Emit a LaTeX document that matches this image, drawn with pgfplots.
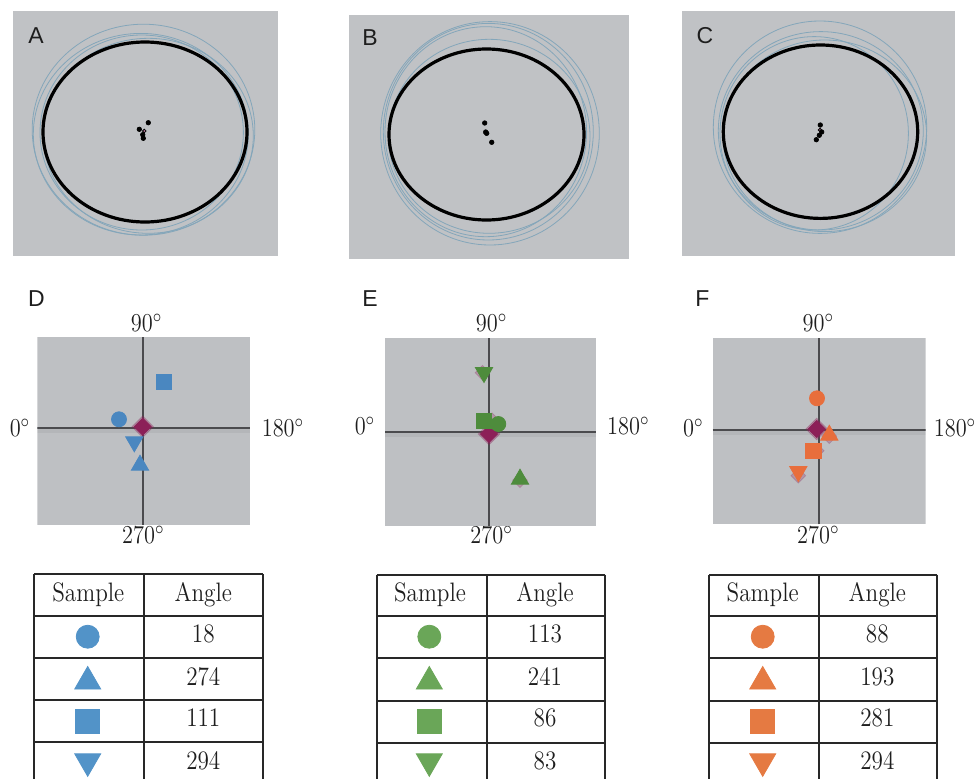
\documentclass[border=0pt]{standalone}
\usepackage{fontspec}
\usepackage{graphicx}
\usepackage{pgfplots}
\pgfplotsset{compat=1.18}
\newfontfamily\labelfont{Liberation Sans}

\definecolor{topgray}{RGB}{192,194,197}
\definecolor{midgray}{RGB}{190,192,195}
\definecolor{ringblue}{RGB}{132,166,186}
\definecolor{mblue}{RGB}{74,135,192}
\definecolor{tblue}{RGB}{82,147,200}
\definecolor{mgreen}{RGB}{78,140,60}
\definecolor{tgreen}{RGB}{106,166,88}
\definecolor{morange}{RGB}{232,110,60}
\definecolor{torange}{RGB}{229,122,66}
\definecolor{mag}{RGB}{140,32,88}
\definecolor{linecol}{RGB}{40,40,40}
\definecolor{crosscol}{RGB}{75,75,78}
\definecolor{txtcol}{RGB}{30,30,30}

\newcommand{\dg}[1]{\scalebox{1}[1.15]{\fontsize{11.2}{13}\selectfont #1$^{\circ}$}}
\newcommand{\tx}[1]{\scalebox{1}[1.15]{\fontsize{11.6}{13}\selectfont #1}}
\newcommand{\pl}[1]{{\labelfont\fontsize{11.5}{13}\selectfont #1}}

\pgfplotsset{
  midpanel/.style={anchor=north west, x=0.5pt, y=0.5pt, axis lines=none, ticks=none, clip=true},
  circ/.style={only marks, mark=*, mark options={draw=none}},
  tri/.style={only marks, mark=triangle*, mark options={draw=none}},
  dtri/.style={only marks, mark=triangle*, mark options={draw=none, rotate=180}},
  sq/.style={only marks, mark=square*, mark options={draw=none}},
  dia/.style={only marks, mark=square*, mark options={draw=none, rotate=45}},
}

\begin{document}
\begin{tikzpicture}
% ---------------- main canvas (pixel coordinates) ----------------
\begin{axis}[at={(0,0)}, anchor=north west, x=0.5pt, y=0.5pt, y dir=reverse,
  xmin=0, xmax=978, ymin=0, ymax=779, axis lines=none, ticks=none, clip=false]
% top panels
\fill[topgray] (axis cs:12.7,11) rectangle (axis cs:277.7,256);
\fill[topgray] (axis cs:349,15) rectangle (axis cs:629,259);
\fill[topgray] (axis cs:682,11) rectangle (axis cs:955,256);
% rings A
\draw[ringblue, line width=0.4pt] (axis cs:143.5,129.7) ellipse [x radius=111.3, y radius=105.5];
\draw[ringblue, line width=0.4pt] (axis cs:140.8,134.2) ellipse [x radius=107.5, y radius=100.8];
\draw[ringblue, line width=0.4pt] (axis cs:141.7,132.5) ellipse [x radius=101.7, y radius=97.5];
\draw[ringblue, line width=0.4pt] (axis cs:148.3,135.8) ellipse [x radius=105, y radius=97.5];
\draw[black, line width=1.6pt] (axis cs:145,132) ellipse [x radius=102, y radius=90];
% rings B
\draw[ringblue, line width=0.4pt] (axis cs:490,133.3) ellipse [x radius=109.3, y radius=111.7];
\draw[ringblue, line width=0.4pt] (axis cs:488.3,131.7) ellipse [x radius=105, y radius=108.3];
\draw[ringblue, line width=0.4pt] (axis cs:489.2,136.3) ellipse [x radius=100.8, y radius=97];
\draw[ringblue, line width=0.4pt] (axis cs:485.8,131.7) ellipse [x radius=100.8, y radius=105];
\draw[black, line width=1.6pt] (axis cs:486.5,134.5) ellipse [x radius=97.5, y radius=85.5];
% rings C
\draw[ringblue, line width=0.4pt] (axis cs:820,127.2) ellipse [x radius=106.7, y radius=106.2];
\draw[ringblue, line width=0.4pt] (axis cs:820.8,130.8) ellipse [x radius=102.5, y radius=99.2];
\draw[ringblue, line width=0.4pt] (axis cs:814.2,133.3) ellipse [x radius=94.2, y radius=96.7];
\draw[ringblue, line width=0.4pt] (axis cs:824.8,135.8) ellipse [x radius=101.8, y radius=95.8];
\draw[black, line width=1.6pt] (axis cs:820.5,131.7) ellipse [x radius=97.2, y radius=86.7];
% centre dots
\addplot[only marks, mark=*, mark size=0.9pt, mark options={draw=none, fill=mag!60!white}] coordinates {(144.3,131) (485.7,133.3) (820,130)};
\addplot[only marks, mark=*, mark size=1.1pt, black] coordinates {
  (148.3,122.7) (139.3,129.3) (142.7,134.7) (143.3,138.3)
  (484.7,123) (485.7,132) (486.7,133.3) (491.7,142.3)
  (820.3,125) (821.7,132) (819.3,135.3) (816.3,139.7)};
% panel letters
\node[anchor=base, text=txtcol] at (axis cs:36,43.3) {\pl{A}};
\node[anchor=base, text=txtcol] at (axis cs:370,45) {\pl{B}};
\node[anchor=base, text=txtcol] at (axis cs:705,43.3) {\pl{C}};
\node[anchor=base, text=txtcol] at (axis cs:36.5,306) {\pl{D}};
\node[anchor=base, text=txtcol] at (axis cs:370,306) {\pl{E}};
\node[anchor=base, text=txtcol] at (axis cs:702.5,306) {\pl{F}};
% degree labels D
\node[anchor=base, text=txtcol] at (axis cs:146.7,331.7) {\dg{90}};
\node[anchor=base, text=txtcol] at (axis cs:20,436.7) {\dg{0}};
\node[anchor=base, text=txtcol] at (axis cs:283,436.7) {\dg{180}};
\node[anchor=base, text=txtcol] at (axis cs:143.3,543.3) {\dg{270}};
% degree labels E
\node[anchor=base, text=txtcol] at (axis cs:491.7,331.7) {\dg{90}};
\node[anchor=base, text=txtcol] at (axis cs:365,434.5) {\dg{0}};
\node[anchor=base, text=txtcol] at (axis cs:628.3,434.5) {\dg{180}};
\node[anchor=base, text=txtcol] at (axis cs:491.7,543.3) {\dg{270}};
% degree labels F
\node[anchor=base, text=txtcol] at (axis cs:818.3,331.7) {\dg{90}};
\node[anchor=base, text=txtcol] at (axis cs:693.3,436.7) {\dg{0}};
\node[anchor=base, text=txtcol] at (axis cs:955,436.7) {\dg{180}};
\node[anchor=base, text=txtcol] at (axis cs:818.3,543.3) {\dg{270}};
% ---------------- tables ----------------
% table D
\draw[linecol, line width=0.9pt] (axis cs:34.3,574.3) -- (axis cs:262.7,574.3);
\draw[linecol, line width=0.9pt] (axis cs:34.3,615.7) -- (axis cs:262.7,615.7);
\draw[linecol, line width=0.9pt] (axis cs:34.3,658) -- (axis cs:262.7,658);
\draw[linecol, line width=0.9pt] (axis cs:34.3,700.3) -- (axis cs:262.7,700.3);
\draw[linecol, line width=0.9pt] (axis cs:34.3,742.3) -- (axis cs:262.7,742.3);
\draw[linecol, line width=0.9pt] (axis cs:34.3,574.3) -- (axis cs:34.3,779);
\draw[linecol, line width=0.9pt] (axis cs:144.3,574.3) -- (axis cs:144.3,779);
\draw[linecol, line width=0.9pt] (axis cs:262.7,574.3) -- (axis cs:262.7,779);
% table E
\draw[linecol, line width=0.9pt] (axis cs:376.7,574.7) -- (axis cs:605,574.7);
\draw[linecol, line width=0.9pt] (axis cs:376.7,616) -- (axis cs:605,616);
\draw[linecol, line width=0.9pt] (axis cs:376.7,658.3) -- (axis cs:605,658.3);
\draw[linecol, line width=0.9pt] (axis cs:376.7,700.7) -- (axis cs:605,700.7);
\draw[linecol, line width=0.9pt] (axis cs:376.7,742.7) -- (axis cs:605,742.7);
\draw[linecol, line width=0.9pt] (axis cs:376.7,574.7) -- (axis cs:376.7,779);
\draw[linecol, line width=0.9pt] (axis cs:486.7,574.7) -- (axis cs:486.7,779);
\draw[linecol, line width=0.9pt] (axis cs:605,574.7) -- (axis cs:605,779);
% table F
\draw[linecol, line width=0.9pt] (axis cs:709.3,574.7) -- (axis cs:937.3,574.7);
\draw[linecol, line width=0.9pt] (axis cs:709.3,616) -- (axis cs:937.3,616);
\draw[linecol, line width=0.9pt] (axis cs:709.3,658.3) -- (axis cs:937.3,658.3);
\draw[linecol, line width=0.9pt] (axis cs:709.3,700.7) -- (axis cs:937.3,700.7);
\draw[linecol, line width=0.9pt] (axis cs:709.3,742.7) -- (axis cs:937.3,742.7);
\draw[linecol, line width=0.9pt] (axis cs:709.3,574.7) -- (axis cs:709.3,779);
\draw[linecol, line width=0.9pt] (axis cs:819,574.7) -- (axis cs:819,779);
\draw[linecol, line width=0.9pt] (axis cs:937.3,574.7) -- (axis cs:937.3,779);
% table headers
\node[anchor=base, text=txtcol] at (axis cs:88.3,601.7) {\tx{Sample}};
\node[anchor=base, text=txtcol] at (axis cs:203.3,601.7) {\tx{Angle}};
\node[anchor=base, text=txtcol] at (axis cs:430,601.7) {\tx{Sample}};
\node[anchor=base, text=txtcol] at (axis cs:545,601.7) {\tx{Angle}};
\node[anchor=base, text=txtcol] at (axis cs:762.7,601.7) {\tx{Sample}};
\node[anchor=base, text=txtcol] at (axis cs:877.3,601.7) {\tx{Angle}};
% table values
\node[anchor=base, text=txtcol] at (axis cs:203.3,642.7) {\tx{18}};
\node[anchor=base, text=txtcol] at (axis cs:203.3,685) {\tx{274}};
\node[anchor=base, text=txtcol] at (axis cs:203.3,726.7) {\tx{111}};
\node[anchor=base, text=txtcol] at (axis cs:203.3,769) {\tx{294}};
\node[anchor=base, text=txtcol] at (axis cs:545,642.7) {\tx{113}};
\node[anchor=base, text=txtcol] at (axis cs:545,685) {\tx{241}};
\node[anchor=base, text=txtcol] at (axis cs:545,726.7) {\tx{86}};
\node[anchor=base, text=txtcol] at (axis cs:545,769) {\tx{83}};
\node[anchor=base, text=txtcol] at (axis cs:877.3,642.7) {\tx{88}};
\node[anchor=base, text=txtcol] at (axis cs:877.3,685) {\tx{193}};
\node[anchor=base, text=txtcol] at (axis cs:877.3,726.7) {\tx{281}};
\node[anchor=base, text=txtcol] at (axis cs:877.3,769) {\tx{294}};
% table sample markers
\addplot[circ, mark size=5.75pt, tblue] coordinates {(87.7,636.7)};
\addplot[tri, mark size=7.5pt, tblue] coordinates {(87.7,681.5)};
\addplot[sq, mark size=6pt, tblue] coordinates {(87.7,721.2)};
\addplot[dtri, mark size=7.5pt, tblue] coordinates {(87.7,761.3)};
\addplot[circ, mark size=5.75pt, tgreen] coordinates {(429.3,636.7)};
\addplot[tri, mark size=7.5pt, tgreen] coordinates {(429.3,681.5)};
\addplot[sq, mark size=6pt, tgreen] coordinates {(429.3,721.2)};
\addplot[dtri, mark size=7.5pt, tgreen] coordinates {(429.3,761.3)};
\addplot[circ, mark size=5.75pt, torange] coordinates {(762.7,636.7)};
\addplot[tri, mark size=7.5pt, torange] coordinates {(762.7,681.5)};
\addplot[sq, mark size=6pt, torange] coordinates {(762.7,721.2)};
\addplot[dtri, mark size=7.5pt, torange] coordinates {(762.7,761.3)};
\end{axis}

% ---------------- D ----------------
\begin{axis}[midpanel, at={(18.65pt,-168.35pt)}, xmin=-105.4, xmax=107.3, ymin=-97.3, ymax=91]
\fill[midgray] (rel axis cs:0,0) rectangle (rel axis cs:1,1);
\draw[black, line width=3pt, opacity=0.05] (axis cs:-105.4,-2) -- (axis cs:107.3,-2);
\draw[crosscol, line width=1pt] (axis cs:-105.4,0) -- (axis cs:107.3,0);
\draw[crosscol, line width=1pt] (axis cs:0,-97.3) -- (axis cs:0,91);
\addplot[dia, mark size=3.8pt, mag, opacity=0.3] coordinates {(0,1)};
\addplot[dia, mark size=3pt, mag] coordinates {(0,1)};
\addplot[circ, mark size=3.75pt, mblue] coordinates {(-23.7,8.4)};
\addplot[tri, mark size=5pt, mblue] coordinates {(-2.7,-37.5)};
\addplot[sq, mark size=3.8pt, mblue] coordinates {(21,46)};
\addplot[dtri, mark size=5pt, mblue] coordinates {(-8.4,-14.1)};
\end{axis}

% ---------------- E ----------------
\begin{axis}[midpanel, at={(192.5pt,-168.85pt)}, xmin=-104, xmax=107, ymin=-93.4, ymax=94.6]
\fill[midgray] (rel axis cs:0,0) rectangle (rel axis cs:1,1);
\draw[black, line width=3pt, opacity=0.05] (axis cs:-104,-2) -- (axis cs:107,-2);
\draw[crosscol, line width=1pt] (axis cs:-104,0) -- (axis cs:107,0);
\draw[crosscol, line width=1pt] (axis cs:0,-93.4) -- (axis cs:0,94.6);
\addplot[dia, mark size=3.8pt, mag, opacity=0.3] coordinates {(0,-1.7)};
\addplot[dia, mark size=2.6pt, mag, opacity=0.25] coordinates {(-6.5,59.5) (31,-48) (3,12)};
\addplot[dia, mark size=3pt, mag] coordinates {(0,-1.7)};
\addplot[sq, mark size=3.8pt, mgreen] coordinates {(-5,11.3)};
\addplot[circ, mark size=3.75pt, mgreen] coordinates {(9.3,8.3)};
\addplot[tri, mark size=5pt, mgreen] coordinates {(31,-46.9)};
\addplot[dtri, mark size=5pt, mgreen] coordinates {(-5,59.8)};
\end{axis}

% ---------------- F ----------------
\begin{axis}[midpanel, at={(356.35pt,-168.85pt)}, xmin=-106, xmax=107, ymin=-94.6, ymax=92]
\fill[midgray] (rel axis cs:0,0) rectangle (rel axis cs:1,1);
\draw[black, line width=3pt, opacity=0.05] (axis cs:-106,-2) -- (axis cs:107,-2);
\draw[crosscol, line width=1pt] (axis cs:-106,0) -- (axis cs:107,0);
\draw[crosscol, line width=1pt] (axis cs:0,-94.6) -- (axis cs:0,92);
\addplot[dia, mark size=3.8pt, mag, opacity=0.3] coordinates {(-2,0.7)};
\addplot[dia, mark size=2.6pt, mag, opacity=0.25] coordinates {(-20.4,-46) (-2,-21) (10.6,-6.5)};
\addplot[dia, mark size=3pt, mag] coordinates {(-2,0.7)};
\addplot[circ, mark size=3.75pt, morange] coordinates {(-1.7,31.4)};
\addplot[tri, mark size=5pt, morange] coordinates {(10.6,-5.5)};
\addplot[sq, mark size=3.8pt, morange] coordinates {(-5.4,-21)};
\addplot[dtri, mark size=5pt, morange] coordinates {(-20.4,-41.8)};
\end{axis}

\pgfresetboundingbox
\path[use as bounding box] (0,0) rectangle (489pt,-389.5pt);
\end{tikzpicture}
\end{document}
